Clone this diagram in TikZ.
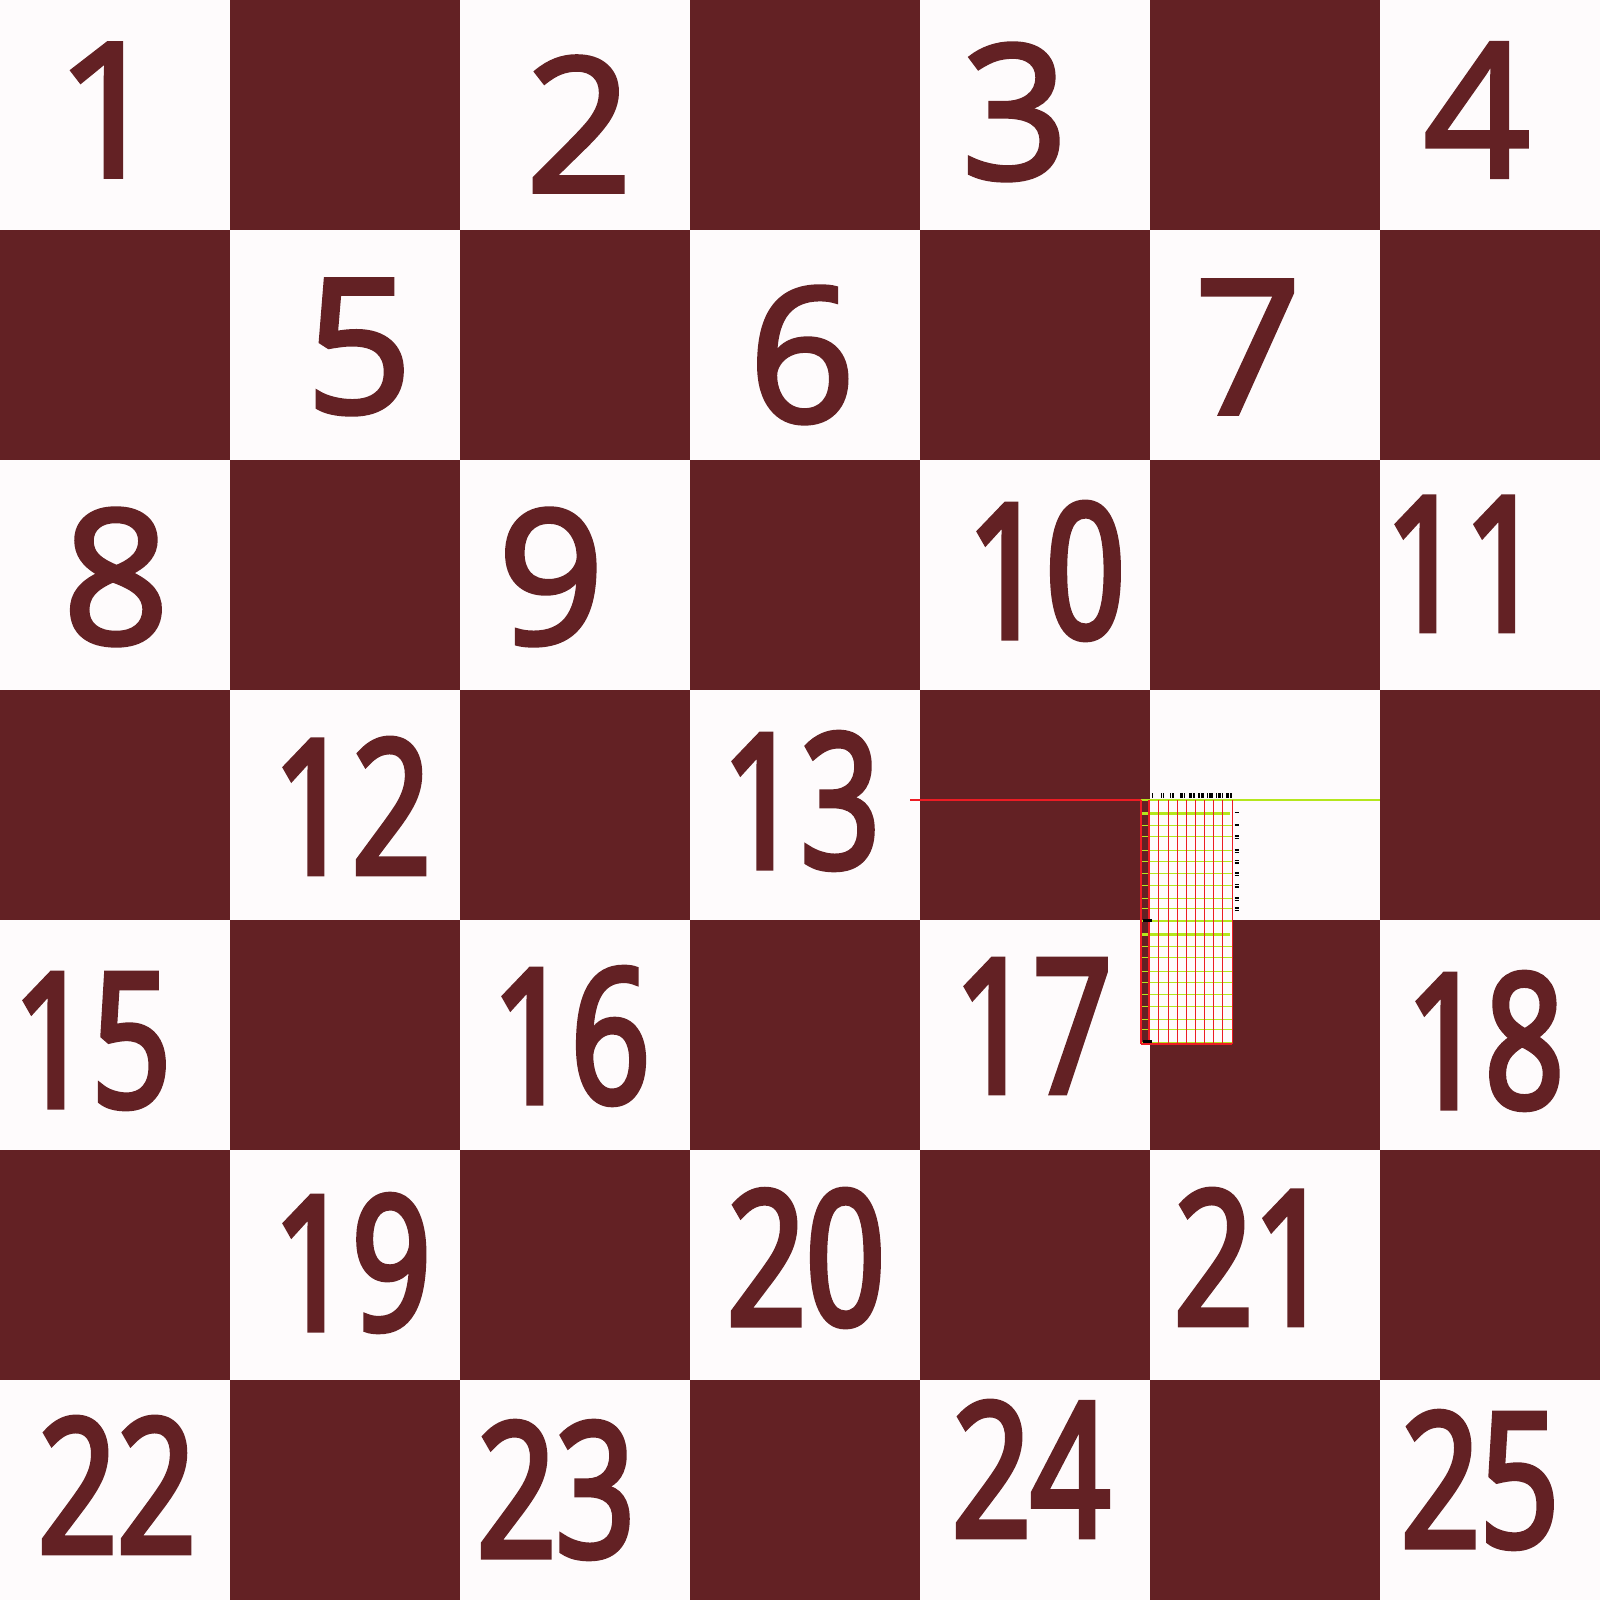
\documentclass[tikz,border=0pt]{standalone}
\usepackage{fontspec}
\setmainfont{Open Sans}[FakeBold=2.5]
\newfontfamily\pairfont[FakeStretch=0.74,FakeBold=3.2]{Open Sans}
\usetikzlibrary{calc}
\definecolor{boardred}{RGB}{99,33,36}
\definecolor{boardwhite}{RGB}{254,251,252}
\definecolor{gridred}{RGB}{237,28,36}
\definecolor{gridgreen}{RGB}{181,230,29}

\begin{document}
\begin{tikzpicture}[
  square/.style={fill=boardred},
  num/.style={text=boardred, font=\fontsize{53}{53}\selectfont, inner sep=0pt},
  pair/.style={num, font=\fontsize{53}{53}\selectfont\pairfont},
  redline/.style={draw=gridred, line width=0.12mm},
  greenline/.style={draw=gridgreen, line width=0.12mm},
  thickgreen/.style={draw=gridgreen, line width=0.35mm},
  tally/.style={draw=black, line width=0.1mm},
]
\useasboundingbox (0,0) rectangle (16,16);
\fill[boardwhite] (0,0) rectangle (16,16);

% Board
\begin{scope}
\clip (0,0) rectangle (16,16);
\foreach \r in {0,...,6}
  \foreach \c in {0,...,6}{
    \pgfmathtruncatemacro{\odd}{mod(\r+\c,2)}
    \ifnum\odd=1
      \fill[square] (\c*2.3, 16-\r*2.3) rectangle ++(2.3,-2.3);
    \fi
  }
\end{scope}

% Numbers
\node[num] (n1) at (1.09,14.90) {1};
\node[num] (n2) at (5.79,14.76) {2};
\node[num] (n3) at (10.15,14.88) {3};
\node[num] (n4) at (14.77,14.90) {4};
\node[num] (n5) at (3.59,12.53) {5};
\node[num] (n6) at (8.02,12.45) {6};
\node[num] (n7) at (12.48,12.53) {7};
\node[num] (n8) at (1.16,10.23) {8};
\node[num] (n9) at (5.51,10.23) {9};
\node[pair] (n10) at (10.46,10.29) {10};
\node[pair] (n11) at (14.64,10.36) {11};
\node[pair] (n12) at (3.52,7.94) {12};
\node[pair] (n13) at (8.01,7.99) {13};
\node[pair] (n15) at (0.92,5.59) {15};
\node[pair] (n16) at (5.71,5.64) {16};
\node[pair] (n17) at (10.33,5.74) {17};
\node[pair] (n18) at (14.85,5.59) {18};
\node[pair] (n19) at (3.52,3.37) {19};
\node[pair] (n20) at (8.06,3.42) {20};
\node[pair] (n21) at (12.53,3.43) {21};
\node[pair] (n22) at (1.17,1.15) {22};
\node[pair] (n23) at (5.56,1.10) {23};
\node[pair] (n24) at (10.31,1.31) {24};
\node[pair] (n25) at (14.80,1.20) {25};

% Grid patch
\draw[redline] (9.10,8.00) -- (11.41,8.00);
\draw[greenline] (12.32,8.00) -- (13.80,8.00);
\fill[boardwhite] (11.49,8.00) rectangle (12.32,5.56);
\fill[boardred] (11.41,8.00) rectangle (11.49,5.56);
\foreach \y in {8.00,8.253,8.363,8.503,8.617,8.733,8.857,8.983,9.083,9.21,9.463,9.573,9.713,9.823,9.943,10.063,10.193,10.293,10.423}
  \draw[greenline] (11.41,16-\y) -- (12.32,16-\y);
\foreach \y in {8.133,9.343}
  \draw[thickgreen] (11.41,16-\y) -- (12.30,16-\y);
\foreach \x in {11.41,11.49,11.583,11.683,11.773,11.863,11.953,12.043,12.133,12.223,12.323}
  \draw[redline] (\x,8.00) -- (\x,5.56);
\draw[redline] (11.41,5.56) -- (12.32,5.56);
\draw[black, line width=0.3mm] (11.43,6.79) -- (11.52,6.79);
\draw[black, line width=0.3mm] (11.43,5.58) -- (11.52,5.58);

% Tally marks
\foreach \i in {1,...,9}{
  \pgfmathtruncatemacro{\n}{min(\i,5)}
  \foreach \k in {1,...,\n}
    \draw[tally] (11.49+\i*0.092-0.07+\k*0.013,8.02) -- ++(0,0.05);
}
\foreach \i/\y in {1/8.133,2/8.253,3/8.363,4/8.503,5/8.617,6/8.733,7/8.857,8/8.983,9/9.083}{
  \pgfmathtruncatemacro{\n}{min(\i,3)}
  \foreach \k in {1,...,\n}
    \draw[tally] (12.345,16-\y+0.02-\k*0.013) -- ++(0.04,0);
}
\end{tikzpicture}
\end{document}
